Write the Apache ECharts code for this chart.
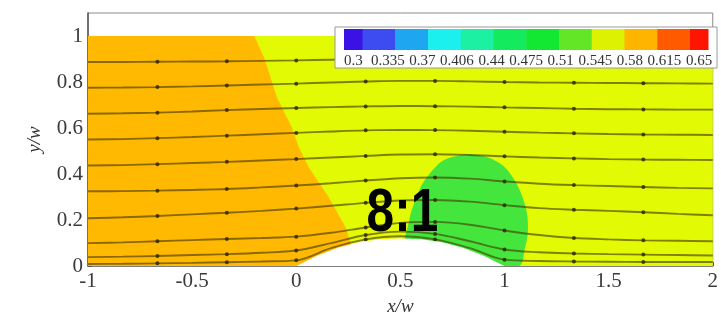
<!DOCTYPE html>
<html><head><meta charset="utf-8">
<script src="https://cdn.jsdelivr.net/npm/echarts@6/dist/echarts.min.js"></script>
<style>html,body{margin:0;padding:0;background:#fff}#c{width:721px;height:321px}</style>
</head><body><div id="c"></div>
<script>
// ---- data ----
const xTicks = [-1, -0.5, 0, 0.5, 1, 1.5, 2];
const yTicks = [0, 0.2, 0.4, 0.6, 0.8, 1];

const fieldBox = [[-1, 0], [-1, 1], [2, 1], [2, 0]];
const orangeRegion = [[-1, 0], [-1, 1], [-0.202, 1], [-0.154, 0.905], [-0.092, 0.732], [-0.021, 0.602],
  [0.013, 0.515], [0.061, 0.429], [0.156, 0.299], [0.237, 0.169], [0.261, 0.10], [0.27, 0]];
const greenRegion = [[0.53, 0.05], [0.543, 0.203], [0.572, 0.286], [0.610, 0.364], [0.667, 0.429], [0.706, 0.459],
  [0.777, 0.481], [0.849, 0.485], [0.921, 0.472], [0.992, 0.437], [1.040, 0.385], [1.078, 0.320],
  [1.107, 0.234], [1.112, 0.147], [1.097, 0.074], [1.069, 0.0], [0.8, -0.02]];
const bumpShape = [[0, 0], [0.1, 0.045], [0.2, 0.08], [0.3, 0.104], [0.4, 0.117], [0.5, 0.12],
  [0.6, 0.117], [0.7, 0.104], [0.8, 0.08], [0.9, 0.045], [1.0, 0]];

const streamX = [-1, -0.8333, -0.6667, -0.5, -0.3333, -0.1667, 0, 0.1667, 0.3333, 0.5, 0.6667, 0.8333,
  1, 1.1667, 1.3333, 1.5, 1.6667, 1.8333, 2];
const stream1 = [.887,.887,.888,.889,.890,.892,.894,.897,.900,.902,.902,.901,.900,.899,.898,.897,.896,.895,.895];
const stream2 = [.775,.776,.778,.781,.785,.789,.793,.798,.802,.805,.805,.803,.800,.798,.797,.796,.795,.794,.793];
const stream3 = [.662,.664,.667,.672,.678,.683,.687,.691,.694,.696,.695,.693,.690,.687,.684,.682,.681,.680,.680];
const stream4 = [.550,.552,.556,.561,.567,.573,.579,.585,.590,.592,.591,.588,.584,.580,.577,.574,.572,.571,.570];
const stream5 = [.437,.439,.443,.448,.453,.459,.465,.472,.479,.485,.486,.483,.477,.472,.468,.465,.463,.462,.461];
const stream6 = [.325,.326,.328,.331,.335,.342,.350,.360,.372,.382,.385,.380,.368,.358,.352,.348,.344,.340,.338];
const stream7 = [.208,.212,.218,.225,.232,.240,.250,.262,.275,.285,.287,.280,.265,.252,.245,.240,.234,.227,.221];
const stream8 = [.100,.103,.108,.113,.118,.122,.128,.145,.168,.188,.192,.180,.155,.135,.122,.116,.112,.110,.108];
const stream9 = [.039,.041,.044,.048,.052,.058,.068,.100,.135,.150,.140,.108,.072,.060,.055,.052,.050,.048,.046];
const stream10 = [.009,.010,.012,.014,.017,.020,.025,.078,.116,.130,.116,.078,.028,.022,.020,.019,.018,.018,.018];
const streams = [stream1, stream2, stream3, stream4, stream5, stream6, stream7, stream8, stream9, stream10];

const legendLabels = ['0.3', '0.335', '0.37', '0.406', '0.44', '0.475', '0.51', '0.545', '0.58', '0.615', '0.65'];
const legendColors = ['#3a12e6', '#3c4cf0', '#1ea6f0', '#1cf0ee', '#1cf0a2', '#14ea5e', '#12e832', '#62e626',
  '#dcf202', '#ffb400', '#ff5a00', '#ff1600'];
const annotation = [[0.51, 0.225, '8:1']];

// ---- styles ----
const YELLOW = '#e2fa04', ORANGE = '#ffb900', GREEN = '#44e63e';
const serif = 'Liberation Serif, Times New Roman, serif';

function polySeries(pts, color, z, smooth) {
  return {
    type: 'custom', coordinateSystem: 'cartesian2d', z: z, silent: true, clip: true,
    data: pts, encode: { x: 0, y: 1 },
    renderItem: function (params, api) {
      if (params.dataIndex !== 0) return;
      return { type: 'polygon', shape: { points: pts.map(p => api.coord(p)), smooth: smooth || 0 },
        style: { fill: color } };
    }
  };
}

const streamSeries = streams.map(ys => ({
  type: 'line', z: 4, silent: true, smooth: 0.35, clip: true,
  data: streamX.map((x, i) => [x, ys[i]]),
  symbol: 'circle', showSymbol: true, showAllSymbol: true,
  symbolSize: (v, p) => (p.dataIndex % 2 === 0 && p.dataIndex > 0 && p.dataIndex < streamX.length - 1) ? 4 : 0,
  lineStyle: { color: 'rgba(70,55,0,0.62)', width: 1.9 },
  itemStyle: { color: 'rgba(50,40,0,0.85)' }
}));

// legend layout
const LG = { left: 335, top: 27, width: 382, height: 41, swL: 344, swR: 708, b1: 362.5, bN: 690, swTop: 29, swH: 21, labY: 61 };
const bounds = [LG.swL];
for (let i = 0; i <= 10; i++) bounds.push(LG.b1 + i * (LG.bN - LG.b1) / 10);
bounds.push(LG.swR);
const legendEls = [{ type: 'rect', z: 100, shape: { x: LG.left, y: LG.top, width: LG.width, height: LG.height },
  style: { fill: '#fff', stroke: '#9a9a9a', lineWidth: 1 } }];
legendColors.forEach((c, i) => legendEls.push({ type: 'rect', z: 101,
  shape: { x: bounds[i], y: LG.swTop, width: bounds[i + 1] - bounds[i] + 0.5, height: LG.swH }, style: { fill: c } }));
const c0 = (bounds[0] + bounds[1]) / 2, c1 = (bounds[11] + bounds[12]) / 2;
legendLabels.forEach((t, i) => legendEls.push({ type: 'text', z: 101,
  x: c0 + i * (c1 - c0) / (legendLabels.length - 1), y: LG.labY,
  style: { text: t, fontSize: 15, fontFamily: serif, fill: '#333', align: 'center', verticalAlign: 'middle' } }));

const chart = echarts.init(document.getElementById('c'), null, { renderer: 'canvas' });
chart.setOption({
  animation: false,
  backgroundColor: '#fff',
  grid: { left: 88, right: 4, top: 13, bottom: 52, show: true, borderColor: '#8a8a8a', borderWidth: 1, backgroundColor: '#fff' },
  xAxis: {
    type: 'value', min: -1, max: 2, interval: 0.5,
    name: 'x/w', nameLocation: 'middle', nameGap: 27,
    nameTextStyle: { fontFamily: serif, fontStyle: 'italic', fontSize: 19, color: '#333' },
    axisLine: { show: true, onZero: false, lineStyle: { color: '#6a6a6a', width: 1.5 } },
    axisTick: { show: true, inside: true, length: 4, lineStyle: { color: '#555' }, customValues: xTicks },
    axisLabel: { fontFamily: serif, fontSize: 21, color: '#3a3a3a', margin: 5, customValues: xTicks },
    splitLine: { show: false }
  },
  yAxis: {
    type: 'value', min: 0, max: 1.1, interval: 0.2,
    name: 'y/w', nameLocation: 'middle', nameGap: 44, nameRotate: 90,
    nameTextStyle: { fontFamily: serif, fontStyle: 'italic', fontSize: 19, color: '#333' },
    axisLine: { show: true, onZero: false, lineStyle: { color: '#555', width: 1.5 } },
    axisTick: { show: true, inside: true, length: 4, lineStyle: { color: '#555' }, customValues: yTicks },
    axisLabel: { fontFamily: serif, fontSize: 21, color: '#3a3a3a', margin: 5, customValues: yTicks },
    splitLine: { show: false }
  },
  series: [
    polySeries(fieldBox, YELLOW, 1),
    polySeries(orangeRegion, ORANGE, 2),
    polySeries(greenRegion, GREEN, 3, 0.35),
    ...streamSeries,
    polySeries(bumpShape, '#ffffff', 5),
    {
      type: 'custom', coordinateSystem: 'cartesian2d', z: 6, silent: true,
      data: annotation, encode: { x: 0, y: 1 },
      renderItem: function (params, api) {
        const pt = api.coord([api.value(0), api.value(1)]);
        return { type: 'text', x: pt[0], y: pt[1], scaleX: 0.8,
          style: { text: annotation[params.dataIndex][2], fontSize: 62, fontWeight: 'bold',
            fontFamily: 'Liberation Sans, Arial, sans-serif', fill: '#000', align: 'center', verticalAlign: 'middle' } };
      }
    }
  ],
  graphic: { elements: legendEls }
});
</script>
</body></html>
